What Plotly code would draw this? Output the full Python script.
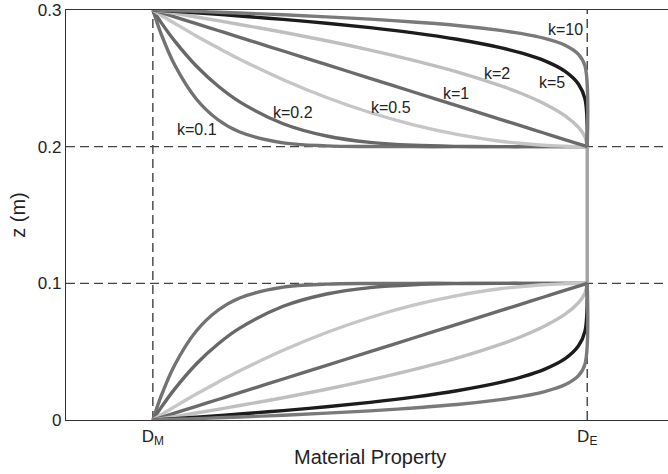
import plotly.graph_objects as go

# ---- data ----
K_LABELS = ["k=0.1", "k=0.2", "k=0.5", "k=1", "k=2", "k=5", "k=10"]

# normalised material property (0 = D_M, 1 = D_E)
X_GRID = [0, 0.02, 0.05, 0.1, 0.15, 0.2, 0.3, 0.4, 0.5, 0.6, 0.7, 0.8,
          0.85, 0.9, 0.95, 0.98, 0.995, 1.0]

# upper graded layer (z from 0.3 down to 0.2)
Z_UP_K01 = [0.3, 0.2817, 0.2599, 0.2349, 0.2197, 0.2107, 0.2028, 0.2006, 0.2001, 0.2, 0.2, 0.2, 0.2, 0.2, 0.2, 0.2, 0.2, 0.2]
Z_UP_K02 = [0.3, 0.2904, 0.2774, 0.2590, 0.2444, 0.2328, 0.2168, 0.2078, 0.2031, 0.2010, 0.2002, 0.2, 0.2, 0.2, 0.2, 0.2, 0.2, 0.2]
Z_UP_K05 = [0.3, 0.2960, 0.2903, 0.2810, 0.2723, 0.2640, 0.2490, 0.2360, 0.2250, 0.2160, 0.2090, 0.2040, 0.2023, 0.2010, 0.2003, 0.2, 0.2, 0.2]
Z_UP_K1 = [0.3, 0.2980, 0.2950, 0.2900, 0.2850, 0.2800, 0.2700, 0.2600, 0.2500, 0.2400, 0.2300, 0.2200, 0.2150, 0.2100, 0.2050, 0.2020, 0.2005, 0.2]
Z_UP_K2 = [0.3, 0.2990, 0.2975, 0.2949, 0.2922, 0.2894, 0.2837, 0.2775, 0.2707, 0.2632, 0.2548, 0.2447, 0.2387, 0.2316, 0.2224, 0.2141, 0.2071, 0.2]
Z_UP_K5 = [0.3, 0.2996, 0.2990, 0.2979, 0.2968, 0.2956, 0.2931, 0.2903, 0.2871, 0.2833, 0.2786, 0.2725, 0.2684, 0.2631, 0.2549, 0.2457, 0.2347, 0.2]
Z_UP_K10 = [0.3, 0.2998, 0.2995, 0.2990, 0.2984, 0.2978, 0.2965, 0.2950, 0.2933, 0.2912, 0.2887, 0.2851, 0.2827, 0.2794, 0.2741, 0.2676, 0.2589, 0.2]

# lower graded layer (z from 0 up to 0.1)
Z_LO_K01 = [0, 0.0183, 0.0401, 0.0651, 0.0803, 0.0893, 0.0972, 0.0994, 0.0999, 0.1, 0.1, 0.1, 0.1, 0.1, 0.1, 0.1, 0.1, 0.1]
Z_LO_K02 = [0, 0.0096, 0.0226, 0.0410, 0.0556, 0.0672, 0.0832, 0.0922, 0.0969, 0.0990, 0.0998, 0.1, 0.1, 0.1, 0.1, 0.1, 0.1, 0.1]
Z_LO_K05 = [0, 0.0040, 0.0097, 0.0190, 0.0277, 0.0360, 0.0510, 0.0640, 0.0750, 0.0840, 0.0910, 0.0960, 0.0977, 0.0990, 0.0997, 0.1, 0.1, 0.1]
Z_LO_K1 = [0, 0.002, 0.005, 0.010, 0.015, 0.020, 0.030, 0.040, 0.050, 0.060, 0.070, 0.080, 0.085, 0.090, 0.095, 0.098, 0.0995, 0.1]
Z_LO_K2 = [0, 0.0010, 0.0025, 0.0051, 0.0078, 0.0106, 0.0163, 0.0225, 0.0293, 0.0368, 0.0452, 0.0553, 0.0613, 0.0684, 0.0776, 0.0859, 0.0929, 0.1]
Z_LO_K5 = [0, 0.0004, 0.0010, 0.0021, 0.0032, 0.0044, 0.0069, 0.0097, 0.0129, 0.0167, 0.0214, 0.0275, 0.0316, 0.0369, 0.0451, 0.0543, 0.0653, 0.1]
Z_LO_K10 = [0, 0.0002, 0.0005, 0.0010, 0.0016, 0.0022, 0.0035, 0.0050, 0.0067, 0.0088, 0.0113, 0.0149, 0.0173, 0.0206, 0.0259, 0.0324, 0.0411, 0.1]

# homogeneous middle layer (D_E between z = 0.1 and 0.2)
CORE_X = [1.0, 1.0]
CORE_Z = [0.1, 0.2]

# reference (dashed) lines
REF_X = [0.0, 1.0]
REF_Z = [0.1, 0.2]

# label anchor points for the k annotations
LABEL_X = [0.102, 0.322, 0.548, 0.699, 0.793, 0.918, 0.949]
LABEL_Z = [0.2122, 0.2247, 0.2283, 0.2386, 0.2532, 0.2466, 0.2861]

Y_TICKS = [0, 0.1, 0.2, 0.3]
Y_TICK_TEXT = ["0", "0.1", "0.2", "0.3"]
X_TICKS = [0, 1]
X_TICK_TEXT = ["D<sub>M</sub>", "D<sub>E</sub>"]

# ---- styling ----
COLORS = ["#727272", "#686868", "#c6c6c6", "#6a6a6a", "#bfbfbf", "#1c1c1c", "#7a7a7a"]
FONT = "Liberation Sans, Arial, Helvetica, sans-serif"

UPPER = [Z_UP_K01, Z_UP_K02, Z_UP_K05, Z_UP_K1, Z_UP_K2, Z_UP_K5, Z_UP_K10]
LOWER = [Z_LO_K01, Z_LO_K02, Z_LO_K05, Z_LO_K1, Z_LO_K2, Z_LO_K5, Z_LO_K10]

fig = go.Figure()

fig.add_trace(go.Scatter(x=CORE_X, y=CORE_Z, mode="lines",
                         line=dict(color="#a3a3a3", width=3.4),
                         showlegend=False, hoverinfo="skip"))

for name, zu, zl, c in zip(K_LABELS, UPPER, LOWER, COLORS):
    for zz in (zu, zl):
        fig.add_trace(go.Scatter(x=X_GRID, y=zz, mode="lines", name=name,
                                 line=dict(color=c, width=3.4, shape="spline", smoothing=1.0),
                                 showlegend=False))

for xv in REF_X:
    fig.add_shape(type="line", xref="x", yref="paper", x0=xv, x1=xv, y0=0, y1=1,
                  line=dict(color="#222222", width=1.2, dash="9px,5px"), layer="below")
for zv in REF_Z:
    fig.add_shape(type="line", xref="paper", yref="y", x0=0, x1=1, y0=zv, y1=zv,
                  line=dict(color="#444444", width=1.2, dash="9px,5px"), layer="below")

for t, lx, lz in zip(K_LABELS, LABEL_X, LABEL_Z):
    fig.add_annotation(x=lx, y=lz, text=t, showarrow=False,
                       font=dict(family=FONT, size=16, color="#222222"))

# axis titles
fig.add_annotation(xref="paper", yref="paper", x=0.505, y=0, yshift=-37,
                   yanchor="middle", text="Material Property", showarrow=False,
                   font=dict(family=FONT, size=20, color="#222222"))
fig.add_annotation(xref="paper", yref="paper", x=-0.08, y=0.5, textangle=-90,
                   xanchor="center", yanchor="middle", text="z (m)", showarrow=False,
                   font=dict(family=FONT, size=20, color="#222222"))

fig.update_layout(
    width=668, height=474,
    margin=dict(l=66, r=0, t=10, b=54, autoexpand=False),
    paper_bgcolor="white", plot_bgcolor="white",
    font=dict(family=FONT, color="#222222"),
    xaxis=dict(range=[-0.2, 1.186], showgrid=False, zeroline=False, automargin=False,
               showline=True, linecolor="#333333", linewidth=1.3, mirror=True,
               tickvals=X_TICKS, ticktext=X_TICK_TEXT, ticks="",
               tickfont=dict(family=FONT, size=17, color="#222222")),
    yaxis=dict(range=[0, 0.3], showgrid=False, zeroline=False, automargin=False,
               showline=True, linecolor="#333333", linewidth=1.3,
               ticklabeloverflow="allow",
               tickvals=Y_TICKS, ticktext=Y_TICK_TEXT, ticks="",
               tickfont=dict(family=FONT, size=17, color="#222222")),
)

# remove the default 8 px page margin so the figure fills the window exactly
fig.write_html("out.html", config={"displayModeBar": False},
               post_script="document.body.style.margin='0';")
